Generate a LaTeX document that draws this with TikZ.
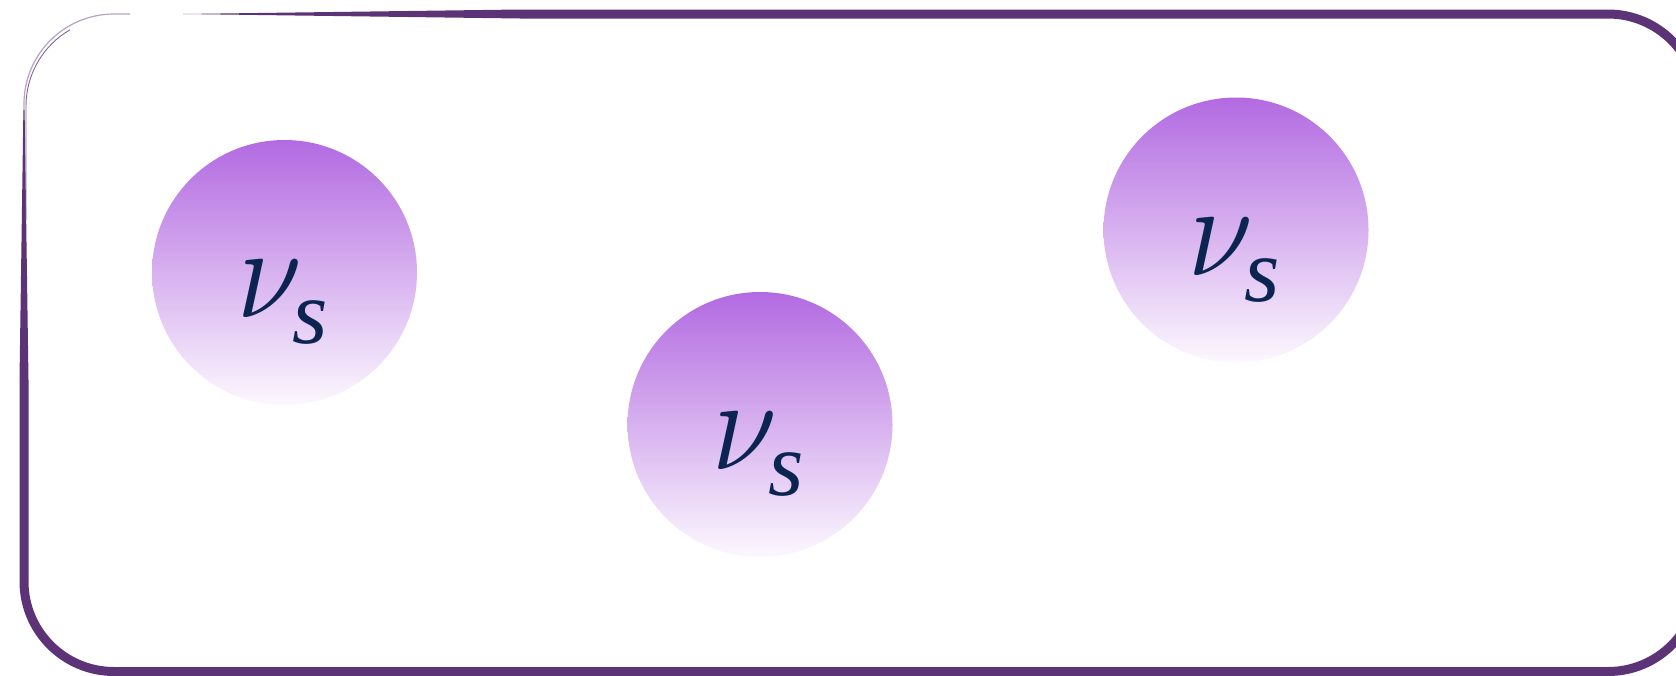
\RequirePackage{fix-cm}
\documentclass[tikz,border=0pt]{standalone}
\usepackage{fontspec}
\setmainfont{Liberation Serif}
\DeclareFontShape{OML}{cmm}{m}{it}{<->cmmi10}{}
\definecolor{frame}{RGB}{93,51,120}
\definecolor{balltop}{RGB}{178,106,225}
\definecolor{ballbot}{RGB}{252,248,254}
\definecolor{ink}{RGB}{12,36,82}
\newcommand{\nuslabel}{\makebox[0pt][l]{\scalebox{0.88}[1]{\fontsize{132}{132}\selectfont$\nu$}}\hspace*{55.5pt}\raisebox{-26pt}{\fontsize{91}{91}\selectfont\itshape s}}
\begin{document}
\begin{tikzpicture}[x=1pt,y=-1pt,
  ball/.style={circle,minimum size=265pt,inner sep=0pt,top color=balltop,bottom color=ballbot,draw=none},
  nulabel/.style={text=ink,inner sep=0pt,anchor=base west},
  border/.style={draw=frame,line width=9pt,line join=round,rounded corners=90pt}]
\useasboundingbox (0,0) rectangle (1676,675);
\fill[white] (0,0) rectangle (1676,675);
% frame
\draw[border] (520,14) -- (1698,14) -- (1698,671.5) -- (24,671.5) -- (24,380);
\fill[frame] (183,14) -- (520,9.5) -- (520,18.5) -- cycle;
\fill[frame] (23.4,110) -- (19.5,380) -- (28.5,380) -- (24.6,110) -- cycle;
\draw[frame!45,line width=1.2pt] (24,110) -- (24,104) arc[start angle=180,end angle=270,radius=90] -- (130,14);
\draw[frame!75,line width=0.9pt] (26,220) -- (26,106) arc[start angle=180,end angle=240,radius=88];
% balls
\node[ball] (b1) at (284.5,272.5) {};
\node[ball] (b2) at (760,424.5) {};
\node[ball] (b3) at (1236,230) {};
\foreach \b in {b1,b2,b3}{
  \node[nulabel] (\b t) at ([shift={(-47.5pt,-45pt)}]\b.center) {\nuslabel};
}
\end{tikzpicture}
\end{document}
